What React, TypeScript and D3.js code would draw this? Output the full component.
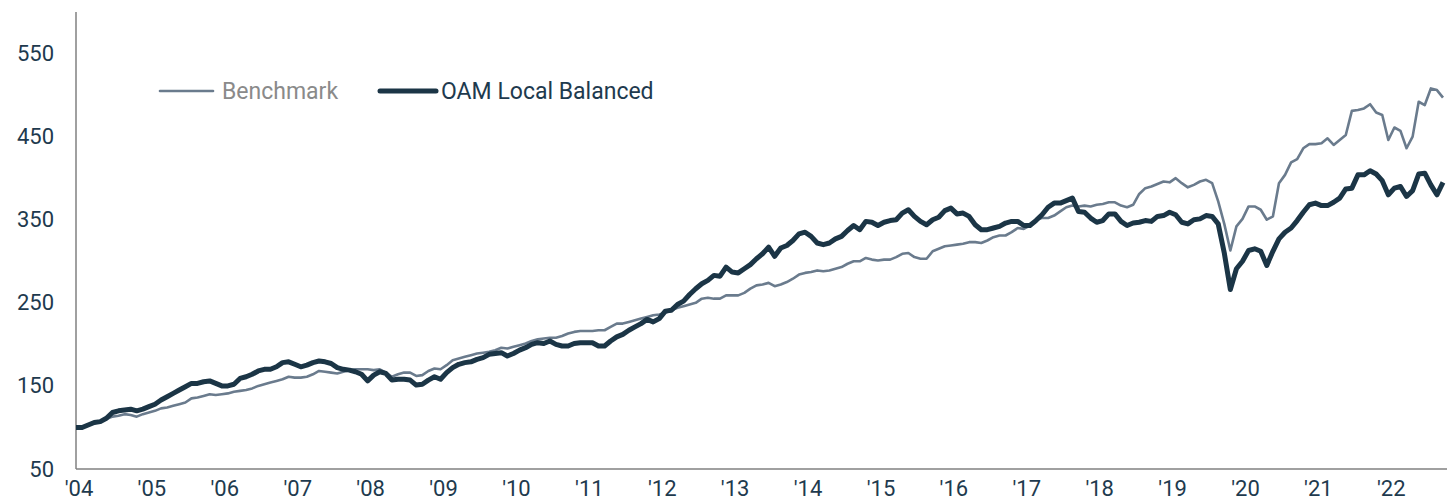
import React from "react";
import * as d3 from "d3";

const yearLabels = ["'04","'05","'06","'07","'08","'09","'10","'11","'12","'13","'14","'15","'16","'17","'18","'19","'20","'21","'22"];
const yTicks = [50, 150, 250, 350, 450, 550];

const oamLocalBalanced = [
  100, 100, 103, 106, 107, 111, 118, 120, 121, 122, 120, 122,
  125, 128, 133, 137, 141, 145, 149, 153, 153, 155, 156, 153,
  150, 150, 152, 159, 161, 164, 168, 170, 170, 173, 178, 179,
  176, 173, 175, 178, 180, 179, 177, 172, 170, 169, 167, 164,
  156, 163, 167, 165, 157, 158, 158, 157, 151, 152, 157, 161,
  158, 166, 172, 176, 178, 179, 182, 184, 188, 189, 190, 186,
  189, 193, 196, 200, 202, 201, 204, 200, 198, 198, 201, 202,
  202, 202, 198, 198, 204, 209, 212, 217, 221, 225, 230, 227,
  231, 240, 241, 248, 252, 260, 267, 273, 277, 283, 282, 293,
  287, 286, 291, 296, 303, 309, 317, 306, 316, 319, 325, 333,
  335, 330, 322, 320, 322, 327, 330, 337, 343, 338, 348, 347,
  343, 347, 349, 350, 358, 362, 354, 348, 344, 350, 353, 361,
  364, 357, 358, 354, 344, 338, 338, 340, 342, 346, 348, 348,
  343, 343, 349, 356, 365, 370, 370, 373, 376, 360, 359, 352,
  347, 349, 357, 357, 348, 343, 346, 347, 349, 348, 354, 355,
  359, 356, 347, 345, 350, 351, 355, 354, 345, 310, 266, 291,
  300, 313, 315, 312, 295, 312, 327, 335, 340, 349, 359, 368,
  370, 367, 367, 371, 376, 387, 388, 404, 404, 409, 405, 397,
  380, 388, 390, 378, 385, 405, 406, 392, 380, 395,
];

const benchmark = [
  100, 100, 103, 105, 107, 110, 113, 114, 116, 115, 113, 116,
  118, 120, 123, 124, 126, 128, 130, 135, 136, 138, 140, 139,
  140, 141, 143, 144, 145, 147, 150, 152, 154, 156, 158, 161,
  160, 160, 161, 164, 168, 167, 166, 165, 167, 169, 170, 170,
  170, 169, 170, 166, 161, 164, 166, 166, 162, 163, 168, 171,
  170, 175, 181, 183, 185, 187, 189, 190, 191, 193, 196, 195,
  197, 199, 201, 204, 206, 207, 208, 208, 210, 213, 215, 216,
  216, 216, 217, 217, 221, 225, 225, 227, 229, 231, 233, 235,
  236, 238, 241, 244, 246, 248, 250, 255, 256, 255, 255, 259,
  259, 259, 262, 267, 271, 272, 274, 270, 272, 275, 279, 284,
  286, 287, 289, 288, 289, 291, 293, 297, 300, 300, 304, 302,
  301, 302, 302, 305, 309, 310, 305, 303, 303, 312, 315, 318,
  319, 320, 321, 323, 323, 322, 325, 329, 331, 331, 335, 340,
  339, 343, 350, 352, 352, 355, 360, 365, 367, 366, 367, 366,
  368, 369, 371, 371, 367, 365, 368, 381, 388, 390, 393, 396,
  395, 400, 394, 389, 392, 396, 398, 394, 372, 345, 313, 342,
  351, 366, 366, 362, 350, 354, 394, 404, 419, 423, 436, 441,
  441, 442, 448, 440, 446, 452, 481, 482, 484, 489, 479, 476,
  446, 461, 457, 436, 450, 492, 488, 508, 506, 497,
];

const W = 1456;
const H = 500;
const FONT = "Roboto, 'Noto Sans', sans-serif";
const TEXT = "#1e3a4e";
const AXIS = "#808080";
const BENCH_COLOR = "#6a7b8d";
const OAM_COLOR = "#1b3546";

export default function App() {
  const n = oamLocalBalanced.length;
  const x = d3.scaleLinear().domain([0, n - 1]).range([76, 1443]);
  const y = d3.scaleLinear().domain([50, 600]).range([469, 12]);
  const line = d3
    .line<number>()
    .x((_, i) => x(i))
    .y((d) => y(d))
    .curve(d3.curveLinear);

  return (
    <svg
      width={W}
      height={H}
      style={{ position: "absolute", left: 0, top: 0, background: "#fff" }}
      fontFamily={FONT}
    >
      <line x1={76} x2={76} y1={12} y2={469} stroke={AXIS} strokeWidth={1.5} />
      <line x1={76} x2={1447} y1={469} y2={469} stroke={AXIS} strokeWidth={1.5} />

      {yTicks.map((t) => (
        <text
          key={t}
          x={54}
          y={y(t)}
          textAnchor="end"
          dominantBaseline="central"
          fontSize={22}
          fill={TEXT}
        >
          {t}
        </text>
      ))}

      {yearLabels.map((lab, k) => (
        <text
          key={lab}
          x={x(k * 12) + 3}
          y={496}
          textAnchor="middle"
          fontSize={22}
          fill={TEXT}
        >
          {lab}
        </text>
      ))}

      <path d={line(benchmark) || ""} fill="none" stroke={BENCH_COLOR} strokeWidth={2.6} strokeLinejoin="round" />
      <path d={line(oamLocalBalanced) || ""} fill="none" stroke={OAM_COLOR} strokeWidth={5} strokeLinejoin="round" />

      <line x1={160} x2={213} y1={91} y2={91} stroke={BENCH_COLOR} strokeWidth={2.6} strokeLinecap="round" />
      <text x={222} y={91} dominantBaseline="central" fontSize={23} fill="#8a8a8a">
        Benchmark
      </text>
      <line x1={380} x2={436} y1={91} y2={91} stroke={OAM_COLOR} strokeWidth={5} strokeLinecap="round" />
      <text x={441} y={91} dominantBaseline="central" fontSize={23} fill={TEXT}>
        OAM Local Balanced
      </text>
    </svg>
  );
}
